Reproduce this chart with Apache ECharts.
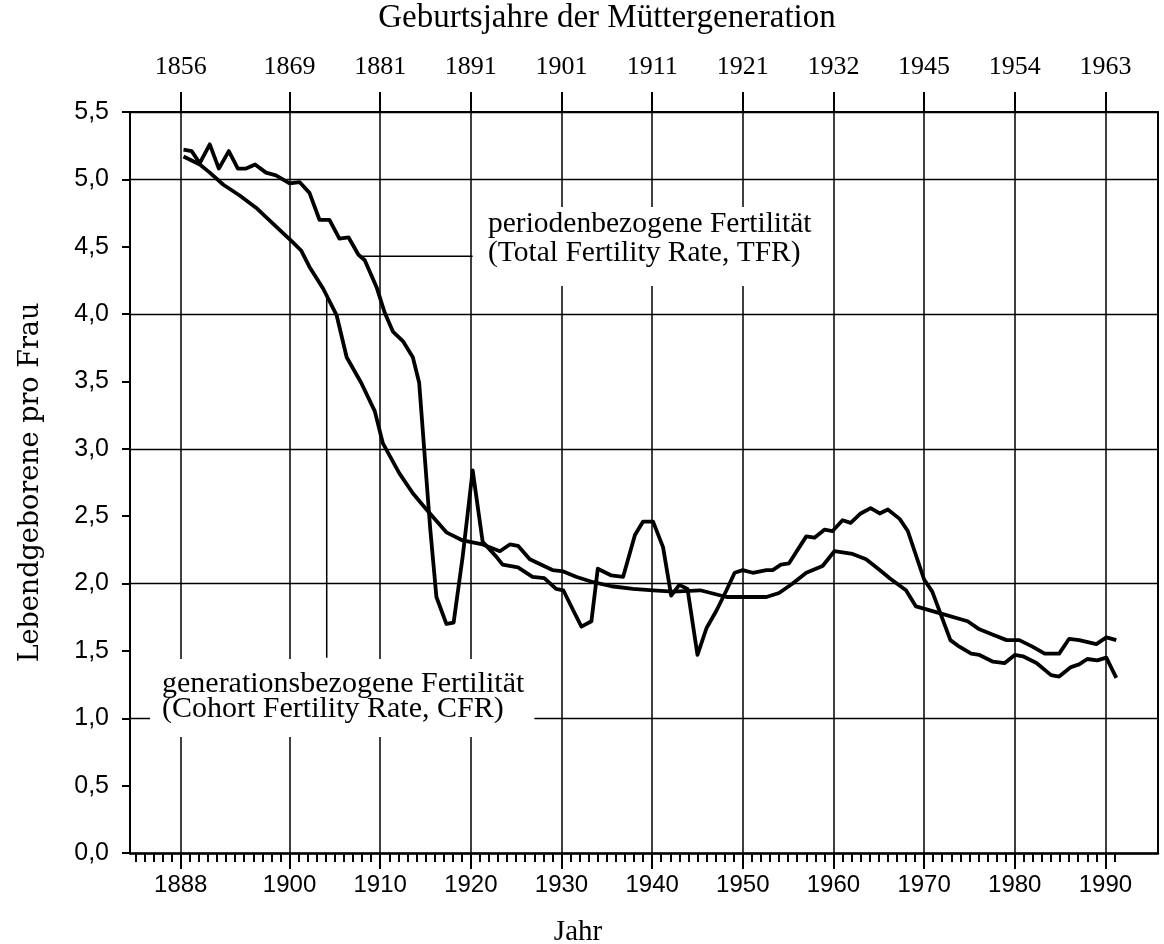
<!DOCTYPE html>
<html>
<head>
	<meta charset="utf-8">
	<title>Lebendgeborene pro Frau</title>
	<script src="https://cdn.jsdelivr.net/npm/echarts@6/dist/echarts.min.js"></script>
	<style type="text/css">
		html, body { margin: 0; padding: 0; background: #fff; }
		#main { width: 1164px; height: 944px; }
	</style>
</head>
<body>
	<div id="main"></div>
	<script>
		// periodenbezogene Fertilität (TFR)
		var tfrYears = [1888.3, 1889.2, 1890.1, 1891.2, 1892.2, 1893.3, 1894.3, 1895.2, 1896.2, 1897.4,
			1898.5, 1900.0, 1901.1, 1902.2, 1903.3, 1904.4, 1905.5, 1906.5, 1907.6, 1908.3,
			1909.6, 1910.5, 1911.4, 1912.5, 1913.6, 1914.3, 1915.5, 1916.2, 1917.3, 1918.1,
			1919.1, 1920.2, 1921.3, 1922.8, 1923.5, 1925.2, 1926.8, 1928.1, 1929.4, 1930.2,
			1931.3, 1932.2, 1933.3, 1934.0, 1935.5, 1936.8, 1938.1, 1939.0, 1940.1, 1941.2,
			1942.1, 1943.0, 1943.9, 1945.0, 1946.0, 1947.1, 1948.2, 1949.1, 1950.0, 1951.1,
			1952.6, 1953.3, 1954.2, 1955.1, 1957.0, 1957.9, 1959.0, 1959.9, 1961.0, 1961.9,
			1963.0, 1964.1, 1965.1, 1966.0, 1967.3, 1968.2, 1970.0, 1970.9, 1972.9, 1973.7,
			1975.2, 1976.1, 1977.6, 1978.9, 1980.0, 1980.9, 1982.4, 1984.0, 1984.9, 1986.2,
			1987.1, 1988.0, 1989.1, 1990.1, 1991.2];
		var tfrValues = [5.22, 5.21, 5.12, 5.26, 5.08, 5.21, 5.08, 5.08, 5.11, 5.05,
			5.03, 4.97, 4.98, 4.90, 4.70, 4.70, 4.56, 4.57, 4.44, 4.40,
			4.20, 4.01, 3.87, 3.80, 3.68, 3.49, 2.42, 1.90, 1.70, 1.71,
			2.20, 2.84, 2.31, 2.20, 2.14, 2.12, 2.05, 2.04, 1.96, 1.95,
			1.80, 1.68, 1.72, 2.11, 2.06, 2.05, 2.36, 2.46, 2.46, 2.27,
			1.91, 1.99, 1.96, 1.47, 1.67, 1.80, 1.95, 2.08, 2.10, 2.08,
			2.10, 2.10, 2.14, 2.15, 2.35, 2.34, 2.40, 2.39, 2.47, 2.45,
			2.52, 2.56, 2.52, 2.55, 2.48, 2.39, 2.03, 1.94, 1.58, 1.54,
			1.48, 1.47, 1.42, 1.41, 1.47, 1.46, 1.41, 1.32, 1.31, 1.38,
			1.40, 1.44, 1.43, 1.45, 1.30];

		// generationsbezogene Fertilität (CFR)
		var cfrYears = [1888.3, 1890.1, 1891.2, 1892.7, 1894.5, 1896.3, 1898.2, 1900.4, 1901.3, 1902.2,
			1903.7, 1905.2, 1906.3, 1907.9, 1909.4, 1910.3, 1912.1, 1913.6, 1915.1, 1917.3,
			1919.1, 1921.3, 1923.2, 1924.3, 1925.2, 1926.5, 1929.0, 1930.2, 1931.6, 1933.5,
			1935.5, 1937.9, 1940.1, 1942.3, 1945.3, 1948.2, 1952.6, 1954.0, 1955.5, 1957.0,
			1958.8, 1960.1, 1962.1, 1963.6, 1965.1, 1966.2, 1968.0, 1969.1, 1971.7, 1974.8,
			1976.1, 1977.6, 1979.1, 1980.5, 1982.0, 1983.3, 1984.9, 1986.0, 1987.1, 1989.0,
			1990.1, 1991.2];
		var cfrValues = [5.17, 5.11, 5.05, 4.96, 4.88, 4.79, 4.67, 4.53, 4.47, 4.35,
			4.19, 3.99, 3.68, 3.49, 3.28, 3.04, 2.82, 2.67, 2.55, 2.38,
			2.32, 2.29, 2.24, 2.29, 2.28, 2.18, 2.10, 2.09, 2.05, 2.01,
			1.98, 1.96, 1.95, 1.94, 1.95, 1.90, 1.90, 1.93, 2.00, 2.08,
			2.13, 2.24, 2.22, 2.18, 2.10, 2.04, 1.95, 1.83, 1.78, 1.72,
			1.66, 1.62, 1.58, 1.58, 1.53, 1.48, 1.48, 1.59, 1.58, 1.55,
			1.60, 1.58];

		// Achsen
		var majorYears = [1888, 1900, 1910, 1920, 1930, 1940, 1950, 1960, 1970, 1980, 1990];
		var birthYears = ['1856', '1869', '1881', '1891', '1901', '1911', '1921', '1932', '1945', '1954', '1963'];
		var minorYears = [];
		for (var y = 1883; y <= 1991; y++) {
			minorYears.push(y);
		}

		// Hinweislinien zu den Beschriftungen
		var tfrLeader = [[1907.7, 4.43], [1920.2, 4.43]];
		var cfrLeader = [[1904.1, 4.12], [1904.1, 1.45]];

		function pairs(xs, vs) {
			var out = [];
			for (var i = 0; i < xs.length; i++) {
				out.push([xs[i], vs[i]]);
			}
			return out;
		}

		var xMin = 1882.4, xMax = 1995.8;
		var black = '#000';

		var chart = echarts.init(document.getElementById('main'), null, { renderer: 'canvas' });
		chart.setOption({
			backgroundColor: '#fff',
			animation: false,
			grid: { left: 130, right: 6, top: 112, bottom: 91 },
			xAxis: [{
					type: 'value',
					position: 'bottom',
					min: xMin,
					max: xMax,
					axisLine: { onZero: false, lineStyle: { color: black, width: 2.5 } },
					axisTick: { customValues: majorYears, length: 16, lineStyle: { color: black, width: 2 } },
					axisLabel: {
						customValues: majorYears,
						margin: 20,
						color: black,
						fontFamily: 'Liberation Sans',
						fontSize: 24,
						formatter: function(v) { return String(v); }
					},
					splitLine: { show: true, lineStyle: { color: black, width: 1.5 } }
				},
				{
					type: 'value',
					position: 'bottom',
					min: xMin,
					max: xMax,
					axisLine: { show: false, onZero: false },
					axisTick: { customValues: minorYears, length: 9, lineStyle: { color: black, width: 2 } },
					axisLabel: { show: false },
					splitLine: { show: false }
				},
				{
					type: 'value',
					position: 'top',
					min: xMin,
					max: xMax,
					axisLine: { onZero: false, lineStyle: { color: black, width: 2 } },
					axisTick: { customValues: majorYears, length: 20, lineStyle: { color: black, width: 2 } },
					axisLabel: {
						customValues: majorYears,
						margin: 32,
						color: black,
						fontFamily: 'Liberation Serif',
						fontSize: 26,
						formatter: function(v) {
							var i = majorYears.indexOf(Math.round(v));
							return i >= 0 ? birthYears[i] : '';
						}
					},
					splitLine: { show: false }
				}
			],
			yAxis: [{
					type: 'value',
					position: 'left',
					min: 0,
					max: 5.5,
					interval: 0.5,
					name: 'Lebendgeborene pro Frau',
					nameLocation: 'middle',
					nameRotate: 90,
					nameGap: 86,
					nameTextStyle: { color: black, fontFamily: 'DejaVu Serif', fontSize: 27 },
					axisLine: { show: true, onZero: false, lineStyle: { color: black, width: 2 } },
					axisTick: { show: true, length: 8, lineStyle: { color: black, width: 2 } },
					axisLabel: {
						margin: 21,
						color: black,
						fontFamily: 'Liberation Sans',
						fontSize: 25,
						formatter: function(v) { return v.toFixed(1).replace('.', ','); }
					},
					splitLine: { show: false }
				},
				{
					type: 'value',
					position: 'right',
					min: 0,
					max: 5.5,
					interval: 1,
					axisLine: { show: true, onZero: false, lineStyle: { color: black, width: 2 } },
					axisTick: { show: false },
					axisLabel: { show: false },
					splitLine: { show: true, lineStyle: { color: black, width: 1.4 } }
				}
			],
			series: [{
					name: 'TFR',
					type: 'line',
					data: pairs(tfrYears, tfrValues),
					showSymbol: false,
					lineStyle: { color: black, width: 3.8, join: 'round' },
					z: 5
				},
				{
					name: 'CFR',
					type: 'line',
					data: pairs(cfrYears, cfrValues),
					showSymbol: false,
					lineStyle: { color: black, width: 3.8, join: 'round' },
					z: 5
				},
				{
					name: 'TFR-Hinweis',
					type: 'line',
					data: tfrLeader,
					showSymbol: false,
					lineStyle: { color: black, width: 1.5 },
					z: 3
				},
				{
					name: 'CFR-Hinweis',
					type: 'line',
					data: cfrLeader,
					showSymbol: false,
					lineStyle: { color: black, width: 1.5 },
					z: 3
				}
			],
			graphic: [{
					type: 'text',
					x: 607,
					y: 18,
					style: {
						text: 'Geburtsjahre der Müttergeneration',
						font: '33px "Liberation Serif"',
						fill: black,
						align: 'center',
						verticalAlign: 'middle'
					}
				},
				{
					type: 'text',
					x: 578,
					y: 932,
					style: {
						text: 'Jahr',
						font: '29px "Liberation Serif"',
						fill: black,
						align: 'center',
						verticalAlign: 'middle'
					}
				},
				{
					type: 'text',
					x: 478,
					y: 207,
					z: 10,
					style: {
						text: 'periodenbezogene Fertilität\n(Total Fertility Rate, TFR)',
						font: '29.5px "Liberation Serif"',
						lineHeight: 29,
						fill: black,
						backgroundColor: '#fff',
						padding: [3, 14, 18, 10]
					}
				},
				{
					type: 'text',
					x: 150,
					y: 659,
					z: 10,
					style: {
						text: 'generationsbezogene Fertilität\n(Cohort Fertility Rate, CFR)',
						font: '30px "Liberation Serif"',
						lineHeight: 25,
						fill: black,
						backgroundColor: '#fff',
						padding: [13, 10, 15, 12]
					}
				}
			]
		});
	</script>
</body>
</html>
